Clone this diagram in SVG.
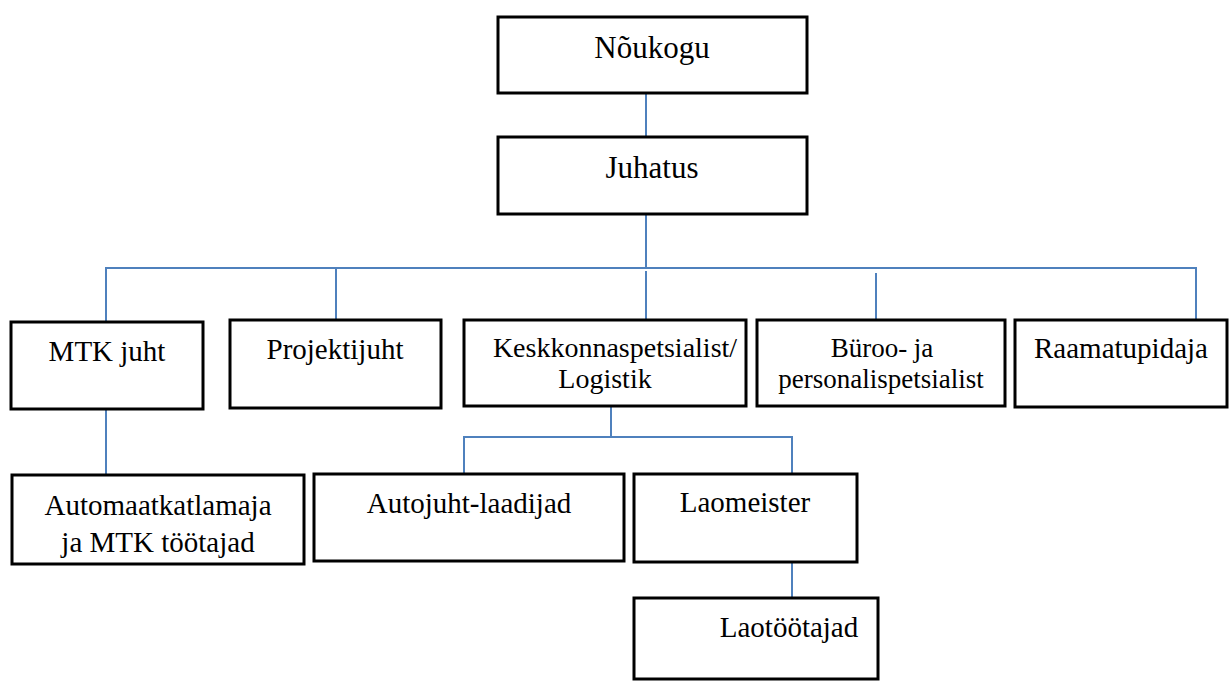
<svg xmlns="http://www.w3.org/2000/svg" width="1230" height="682" viewBox="0 0 1230 682">
<style>
.box{fill:#fff;stroke:#000;stroke-width:3}
.c{stroke:#4f81bd;stroke-width:2;fill:none}
</style>
<rect width="1230" height="682" fill="#fff"/>
<g id="connectors">
<line class="c" x1="646" y1="93" x2="646" y2="137"/>
<line class="c" x1="646" y1="214" x2="646" y2="268"/>
<polyline class="c" points="106,322 106,268 1196,268 1196,320"/>
<line class="c" x1="336" y1="268" x2="336" y2="320"/>
<line class="c" x1="646" y1="271" x2="646" y2="325"/>
<line class="c" x1="876" y1="273" x2="876" y2="327"/>
<line class="c" x1="106" y1="409" x2="106" y2="475"/>
<line class="c" x1="611" y1="406" x2="611" y2="437"/>
<polyline class="c" points="464,474 464,437 792,437 792,474"/>
<line class="c" x1="792" y1="562" x2="792" y2="598"/>
</g>
<g font-family="Liberation Serif, Times New Roman, serif" font-size="29" text-anchor="middle" fill="#000">
<g id="noukogu"><rect class="box" x="498" y="17" width="309" height="76"/><text font-size="31" x="652" y="58">Nõukogu</text></g>
<g id="juhatus"><rect class="box" x="498" y="137" width="309" height="77"/><text font-size="31" x="652" y="178">Juhatus</text></g>
<g id="mtk"><rect class="box" x="11" y="322" width="192" height="87"/><text x="107" y="361">MTK juht</text></g>
<g id="projektijuht"><rect class="box" x="230" y="320" width="211" height="88"/><text x="335" y="359">Projektijuht</text></g>
<g id="keskkonna"><rect class="box" x="464" y="320" width="282" height="86"/><text font-size="28" x="615" y="357">Keskkonnaspetsialist/</text><text font-size="28" x="605" y="388">Logistik</text></g>
<g id="buroo"><rect class="box" x="757" y="320" width="248" height="86"/><text font-size="27" x="882" y="357">Büroo- ja</text><text font-size="27" x="881" y="388">personalispetsialist</text></g>
<g id="raamatupidaja"><rect class="box" x="1015" y="320" width="212" height="87"/><text x="1121" y="358">Raamatupidaja</text></g>
<g id="automaat"><rect class="box" x="12" y="475" width="292" height="89"/><text x="158" y="515">Automaatkatlamaja</text><text x="158" y="552">ja MTK töötajad</text></g>
<g id="autojuht"><rect class="box" x="314" y="474" width="310" height="87"/><text x="469" y="513">Autojuht-laadijad</text></g>
<g id="laomeister"><rect class="box" x="634" y="474" width="223" height="88"/><text x="745" y="512">Laomeister</text></g>
<g id="laotootajad"><rect class="box" x="634" y="598" width="244" height="81"/><text x="789" y="637">Laotöötajad</text></g>
</g>
</svg>
